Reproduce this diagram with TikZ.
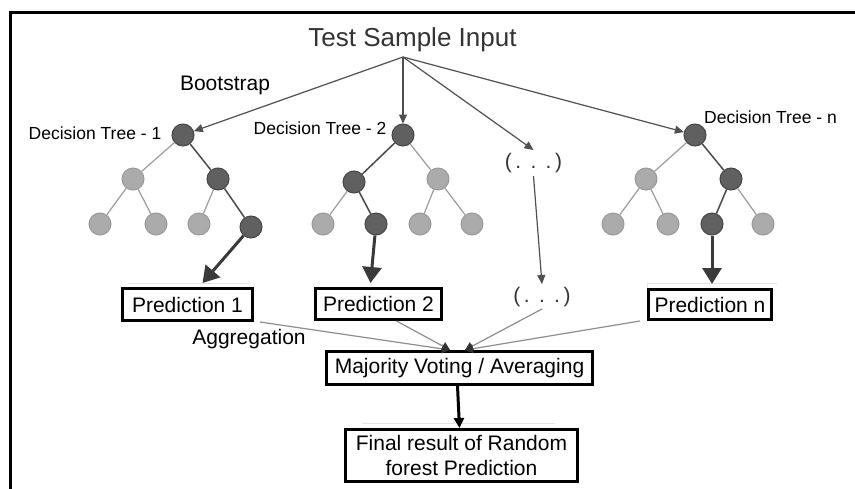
\documentclass[tikz,border=0pt]{standalone}
\usepackage{fontspec}
\setmainfont{Liberation Sans}
\usetikzlibrary{arrows.meta}
\definecolor{darkn}{HTML}{606060}
\definecolor{darkb}{HTML}{454545}
\definecolor{lightn}{HTML}{ABABAB}
\definecolor{lightb}{HTML}{9A9A9A}
\definecolor{darke}{HTML}{4A4A4A}
\definecolor{lighte}{HTML}{9C9C9C}
\definecolor{inarrow}{HTML}{505050}
\definecolor{bigarrow}{HTML}{3A3A3A}
\definecolor{aggline}{HTML}{8E8E8E}
\definecolor{faint}{HTML}{E4E4E4}
\begin{document}
\begin{tikzpicture}[x=1pt,y=-1pt,
  dn/.style={circle,fill=darkn,draw=darkb,line width=1pt,minimum size=22pt,inner sep=0pt},
  ln/.style={circle,fill=lightn,draw=lightb,line width=1pt,minimum size=22pt,inner sep=0pt},
  de/.style={draw=darke,line width=1.5pt},
  le/.style={draw=lighte,line width=1.2pt},
  inarr/.style={draw=inarrow,line width=1.2pt,-{Triangle[length=9pt,width=8pt]}},
  bigarr/.style={draw=bigarrow,line width=3pt,-{Triangle[length=16pt,width=19pt]}},
  aggarr/.style={draw=aggline,line width=1.2pt,-{Triangle[length=8pt,width=9pt,color=black!80]}},
  box/.style={draw=black,line width=3pt,inner sep=0pt,align=center,font=\fontsize{21}{25}\selectfont},
  lbl/.style={font=\fontsize{21}{25}\selectfont,inner sep=0pt},
  dotl/.style={font=\fontsize{21}{25}\selectfont,inner sep=0pt,text=black!80},
  dtl/.style={font=\fontsize{17.5}{21}\selectfont,inner sep=0pt},
  faintline/.style={draw=faint,line width=1pt}]
\useasboundingbox (0,0) rectangle (855,488);
\fill[white] (0,0) rectangle (855,488);
% frame
\draw[line width=3pt] (10,492) -- (10,12) -- (858,12);

% faint artefact lines
\draw[faintline] (128,283) -- (247,283);
\draw[faintline] (647,311) -- (647,283) -- (777,283);
\draw[faintline] (362,423) -- (555,423);

% title
\node[font=\fontsize{26}{30}\selectfont,text=black!80,inner sep=0pt] (tsi) at (412.5,40) {Test Sample Input};
\coordinate (src) at (403,57);

% tree 1
\node[dn] (a0) at (183,135) {};
\node[ln] (a1) at (133,179) {};
\node[dn] (a2) at (218,179) {};
\node[ln] (a3) at (100,224) {};
\node[ln] (a4) at (156,224) {};
\node[ln] (a5) at (199,224) {};
\node[dn] (a6) at (251,227) {};
% tree 2
\node[dn] (b0) at (403,135) {};
\node[dn] (b1) at (354,182) {};
\node[ln] (b2) at (438,179) {};
\node[ln] (b3) at (323,224) {};
\node[dn] (b4) at (376,224) {};
\node[ln] (b5) at (420,224) {};
\node[ln] (b6) at (472,224) {};
% tree n
\node[dn] (c0) at (695,135) {};
\node[ln] (c1) at (646,179) {};
\node[dn] (c2) at (731,179) {};
\node[ln] (c3) at (613,224) {};
\node[ln] (c4) at (668,224) {};
\node[dn] (c5) at (712,224) {};
\node[ln] (c6) at (763,224) {};

\draw[le] (a0) -- (a1); \draw[de] (a0) -- (a2);
\draw[le] (a1) -- (a3); \draw[le] (a1) -- (a4);
\draw[le] (a2) -- (a5); \draw[de] (a2) -- (a6);
\draw[de] (b0) -- (b1); \draw[le] (b0) -- (b2);
\draw[le] (b1) -- (b3); \draw[de] (b1) -- (b4);
\draw[le] (b2) -- (b5); \draw[le] (b2) -- (b6);
\draw[le] (c0) -- (c1); \draw[de] (c0) -- (c2);
\draw[le] (c1) -- (c3); \draw[le] (c1) -- (c4);
\draw[de] (c2) -- (c5); \draw[le] (c2) -- (c6);

% labels
\node[dtl] (dt1) at (95,133) {Decision Tree - 1};
\node[dtl] (dt2) at (320,128) {Decision Tree - 2};
\node[dtl] (dtn) at (770.5,117) {Decision Tree - n};
\node[lbl] (boot) at (225,85) {Bootstrap};
\node[lbl] (aggr) at (249,339) {Aggregation};
\node[dotl] (dots1) at (533.5,163) {(\,.\ \,.\ \,.\,)};
\node[dotl] (dots2) at (542,297) {(\,.\ \,.\ \,.\,)};

% input arrows
\draw[inarr] (src) -- (a0);
\draw[inarr] (src) -- (b0);
\draw[inarr] (src) -- ([yshift=3pt]dots1.north);
\draw[inarr] (src) -- (c0);

% boxes
\node[box,minimum width=130pt,minimum height=32pt] (p1) at (187.5,304.5) {Prediction 1};
\node[box,minimum width=126pt,minimum height=31pt] (p2) at (378.5,304) {Prediction 2};
\node[box,minimum width=123pt,minimum height=30pt] (pn) at (710,304.5) {Prediction n};
\node[box,minimum width=266pt,minimum height=33pt] (maj) at (459.5,368) {Majority Voting / Averaging};
\node[box,minimum width=232pt,minimum height=52pt] (fin) at (461.5,455.5) {Final result of Random\\forest Prediction};

% prediction arrows
\draw[bigarr] (a6) -- ([xshift=15pt,yshift=4pt]p1.north);
\draw[bigarr] (b4) -- ([xshift=-8pt,yshift=4pt]p2.north);
\draw[bigarr] (c5) -- ([xshift=2pt,yshift=4pt]pn.north);
\draw[inarr] ([yshift=-3pt]dots1.south) -- ([yshift=3pt]dots2.north);

% aggregation
\draw[aggarr] ([xshift=6pt]p1.south east) -- ([xshift=-9.5pt]maj.north);
\draw[aggarr] ([xshift=18pt]p2.south) -- ([xshift=-9.5pt]maj.north);
\draw[aggarr] ([yshift=-2pt]dots2.south) -- ([xshift=5.5pt]maj.north);
\draw[aggarr] ([xshift=-7pt]pn.south west) -- ([xshift=5.5pt]maj.north);

\draw[line width=3pt,-{Triangle[length=10pt,width=10pt]}] ([xshift=-2pt]maj.south) -- ([xshift=-2pt]fin.north);
\end{tikzpicture}
\end{document}
